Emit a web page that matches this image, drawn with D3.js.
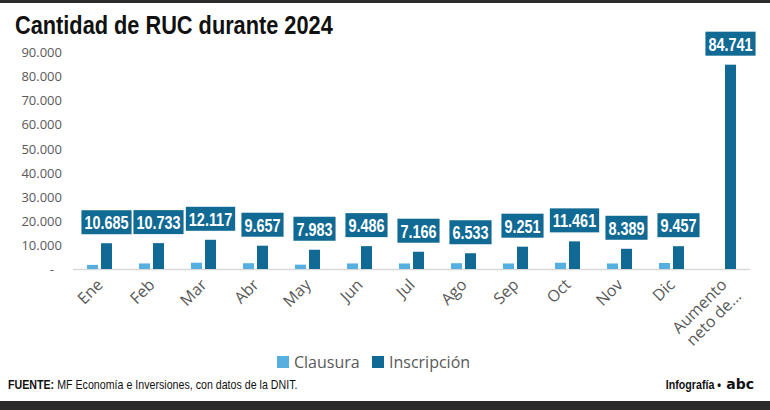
<!DOCTYPE html>
<html>
<head>
<meta charset="utf-8">
<script src="https://cdn.jsdelivr.net/npm/d3@7"></script>
<style>
  body { margin: 0; background: #fff; }
  svg { display: block; }
</style>
</head>
<body>
<svg id="chart" width="770" height="410"></svg>
<script>
// Chart data
var categories = ["Ene", "Feb", "Mar", "Abr", "May", "Jun", "Jul", "Ago", "Sep", "Oct", "Nov", "Dic", "Aumento neto de..."];
var clausura = [1700, 2300, 2600, 2400, 1800, 2300, 2300, 2400, 2300, 2600, 2300, 2500, 0];
var inscripcion = [10685, 10733, 12117, 9657, 7983, 9486, 7166, 6533, 9251, 11461, 8389, 9457, 84741];
var yTicks = [0, 10000, 20000, 30000, 40000, 50000, 60000, 70000, 80000, 90000];

var lightBlue = "#55b0e1";
var darkBlue = "#116a93";
var grey = "#595959";
var narrowFont = "Liberation Sans, Arial, sans-serif";

var locale = d3.formatLocale({ decimal: ",", thousands: ".", grouping: [3], currency: ["", ""] });
var fmt = locale.format(",d");

// Text squeezed horizontally to imitate a narrow face
function narrowText(parent, x, y, factor)
{
    return parent.append("g")
        .attr("transform", "translate(" + x + "," + y + ") scale(" + factor + ",1)")
        .append("text")
        .attr("font-family", narrowFont);
}

var svg = d3.select("#chart");

// Top and bottom borders
svg.append("rect").attr("x", 0).attr("y", 0).attr("width", 770).attr("height", 3).attr("fill", "#2b2b2b");
svg.append("rect").attr("x", 0).attr("y", 401).attr("width", 770).attr("height", 9).attr("fill", "#2b2b2b");

// Title
narrowText(svg, 15, 34, 0.87)
    .attr("font-weight", "bold")
    .attr("font-size", 25)
    .attr("fill", "#111")
    .text("Cantidad de RUC durante 2024");

// Scales
var x = d3.scaleBand().domain(categories).range([74, 750]).paddingInner(0).paddingOuter(0);
var y = d3.scaleLinear().domain([0, 90000]).range([269, 52]);

// Y axis
var yAxis = d3.axisLeft(y)
    .tickValues(yTicks)
    .tickSize(0)
    .tickPadding(0)
    .tickFormat(function(d) { return d === 0 ? "-" : fmt(d); });

var yG = svg.append("g").attr("transform", "translate(62,0)").call(yAxis);
yG.select(".domain").remove();
yG.selectAll("text")
    .attr("font-family", "Open Sans, sans-serif")
    .attr("font-size", 13)
    .attr("fill", grey)
    .attr("dy", "0.35em")
    .attr("dx", function(d) { return d === 0 ? -8 : 0; });

// Baseline
svg.append("line")
    .attr("x1", 73).attr("x2", 750)
    .attr("y1", y(0) + 0.5).attr("y2", y(0) + 0.5)
    .attr("stroke", "#d9d9d9")
    .attr("stroke-width", 1.5);

var barW = 11;

// Clausura bars
svg.append("g").selectAll("rect")
    .data(categories)
    .join("rect")
    .attr("x", function(d) { return x(d) + x.bandwidth() / 2 - 13; })
    .attr("y", function(d, i) { return y(clausura[i]); })
    .attr("width", barW)
    .attr("height", function(d, i) { return y(0) - y(clausura[i]); })
    .attr("fill", lightBlue);

// Inscripcion bars
svg.append("g").selectAll("rect")
    .data(categories)
    .join("rect")
    .attr("x", function(d) { return x(d) + x.bandwidth() / 2 + 1; })
    .attr("y", function(d, i) { return y(inscripcion[i]); })
    .attr("width", barW)
    .attr("height", function(d, i) { return y(0) - y(inscripcion[i]); })
    .attr("fill", darkBlue);

// Value labels: box sized to the text
var labelG = svg.append("g");
categories.forEach(function(d, i) {
    var cx = x(d) + x.bandwidth() / 2 + 1 + barW / 2;
    var cy = y(inscripcion[i]) - 21;
    var box = labelG.append("rect").attr("fill", darkBlue);
    var t = narrowText(labelG, cx, cy, 0.76)
        .attr("text-anchor", "middle")
        .attr("dy", "0.36em")
        .attr("font-weight", "bold")
        .attr("font-size", 19)
        .attr("fill", "#fff")
        .text(fmt(inscripcion[i]));
    var w = t.node().getComputedTextLength() * 0.76 + 6;
    box.attr("x", cx - w / 2).attr("y", cy - 12).attr("width", w).attr("height", 24);
});

// X labels, rotated
var xl = svg.append("g").selectAll("text")
    .data(categories)
    .join("text")
    .attr("transform", function(d) {
        return "translate(" + (x(d) + x.bandwidth() / 2 - 3) + ",279) rotate(-45)";
    })
    .attr("text-anchor", "end")
    .attr("font-family", "Open Sans, sans-serif")
    .attr("font-size", 16)
    .attr("fill", grey);

xl.each(function(d) {
    var t = d3.select(this);
    if (d.indexOf("Aumento") === 0) {
        t.append("tspan").attr("x", 0).attr("dy", "0.6em").text("Aumento");
        t.append("tspan").attr("x", 2).attr("dy", "1.15em").text("neto de...");
    } else {
        t.append("tspan").attr("x", 0).attr("dy", "0.6em").text(d);
    }
});

// Legend
var legend = svg.append("g").attr("transform", "translate(277,356)");
legend.append("rect").attr("x", 0).attr("y", 0).attr("width", 12).attr("height", 12).attr("fill", lightBlue);
legend.append("text").attr("x", 17).attr("y", 12)
    .attr("font-family", "Open Sans, sans-serif").attr("font-size", 16).attr("fill", grey)
    .text("Clausura");
legend.append("rect").attr("x", 95).attr("y", 0).attr("width", 12).attr("height", 12).attr("fill", darkBlue);
legend.append("text").attr("x", 112).attr("y", 12)
    .attr("font-family", "Open Sans, sans-serif").attr("font-size", 16).attr("fill", grey)
    .text("Inscripción");

// Footer
var srcBold = narrowText(svg, 8, 389, 0.82)
    .attr("font-size", 13)
    .attr("font-weight", "bold")
    .attr("fill", "#111")
    .text("FUENTE:");
var boldW = srcBold.node().getComputedTextLength() * 0.82;

narrowText(svg, 8 + boldW + 3, 389, 0.82)
    .attr("font-size", 13)
    .attr("fill", "#111")
    .text("MF Economía e Inversiones, con datos de la DNIT.");

narrowText(svg, 721, 389, 0.82)
    .attr("text-anchor", "end")
    .attr("font-size", 13)
    .attr("font-weight", "bold")
    .attr("fill", "#111")
    .text("Infografía •");

narrowText(svg, 754, 389, 1)
    .attr("text-anchor", "end")
    .attr("font-family", "DejaVu Sans, sans-serif")
    .attr("font-size", 14)
    .attr("font-weight", "bold")
    .attr("fill", "#111")
    .text("abc");
</script>
</body>
</html>
